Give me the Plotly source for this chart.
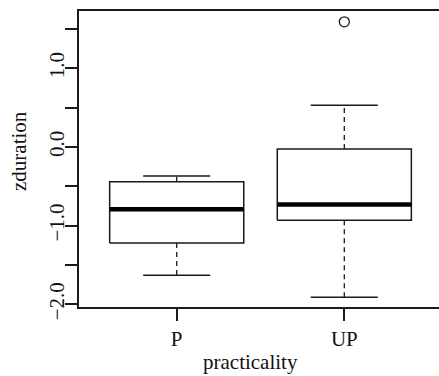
import plotly.graph_objects as go

categories = ["P", "UP"]
lower_whisker = [-1.63, -1.91]
q1 = [-1.22, -0.93]
median = [-0.79, -0.73]
q3 = [-0.44, -0.025]
upper_whisker = [-0.37, 0.53]
outliers = [[], [1.59]]

y_tickvals = [-2.0, -1.5, -1.0, -0.5, 0.0, 0.5, 1.0, 1.5]
y_ticktext = ["\u22122.0", "", "\u22121.0", "", "0.0", "", "1.0", ""]
x_title = "practicality"
y_title = "zduration"

LINE = "#1a1a1a"
FONT = "Liberation Serif"
BW = 0.4   # half box width
CW = 0.2   # half cap width

fig = go.Figure()
for i, cat in enumerate(categories):
    x = i + 1
    fig.add_trace(go.Scatter(
        x=[x - BW, x + BW, x + BW, x - BW, x - BW],
        y=[q1[i], q1[i], q3[i], q3[i], q1[i]],
        mode="lines", line=dict(color=LINE, width=1.5), hoverinfo="skip"))
    fig.add_trace(go.Scatter(
        x=[x - BW, x + BW], y=[median[i], median[i]],
        mode="lines", line=dict(color="#000", width=4.5), hoverinfo="skip"))
    fig.add_trace(go.Scatter(
        x=[x, x, None, x, x],
        y=[q3[i], upper_whisker[i], None, q1[i], lower_whisker[i]],
        mode="lines", line=dict(color=LINE, width=1.3, dash="5px,4px"), hoverinfo="skip"))
    fig.add_trace(go.Scatter(
        x=[x - CW, x + CW, None, x - CW, x + CW],
        y=[upper_whisker[i], upper_whisker[i], None, lower_whisker[i], lower_whisker[i]],
        mode="lines", line=dict(color=LINE, width=1.5), hoverinfo="skip"))
    if outliers[i]:
        fig.add_trace(go.Scatter(
            x=[x] * len(outliers[i]), y=outliers[i], mode="markers",
            marker=dict(symbol="circle-open", size=10, color=LINE, line=dict(width=1.3)),
            hoverinfo="skip"))

fig.update_layout(
    width=439, height=376,
    margin=dict(l=79, r=0, t=11, b=69),
    paper_bgcolor="white", plot_bgcolor="white",
    showlegend=False,
    font=dict(family=FONT, size=21, color="#111"),
    xaxis=dict(
        range=[0.417, 2.565],
        tickvals=[1, 2], ticktext=categories,
        showgrid=False, zeroline=False,
        showline=True, linecolor=LINE, linewidth=1.5, mirror=True,
        ticks="outside", ticklen=12, tickwidth=1.5, tickcolor=LINE,
        ticklabelstandoff=0,
        tickfont=dict(family=FONT, size=21, color="#111"),
        fixedrange=True,
    ),
    yaxis=dict(
        range=[-2.033, 1.728],
        tickvals=y_tickvals, ticktext=y_ticktext,
        tickangle=-90,
        showgrid=False, zeroline=False,
        showline=True, linecolor=LINE, linewidth=1.5, mirror=False,
        ticks="outside", ticklen=12, tickwidth=1.5, tickcolor=LINE,
        ticklabelstandoff=-7,
        tickfont=dict(family=FONT, size=21, color="#111"),
        fixedrange=True,
    ),
    annotations=[
        dict(text=x_title, xref="paper", yref="paper", x=(250 - 79) / 360, y=-(362 - 307) / 296,
             xanchor="center", yanchor="middle", showarrow=False,
             font=dict(family=FONT, size=21, color="#111")),
        dict(text=y_title, xref="paper", yref="paper", x=-(79 - 19) / 360, y=(307 - 151) / 296,
             xanchor="center", yanchor="middle", textangle=-90, showarrow=False,
             font=dict(family=FONT, size=21, color="#111")),
    ],
)

fig.write_html("out.html")
